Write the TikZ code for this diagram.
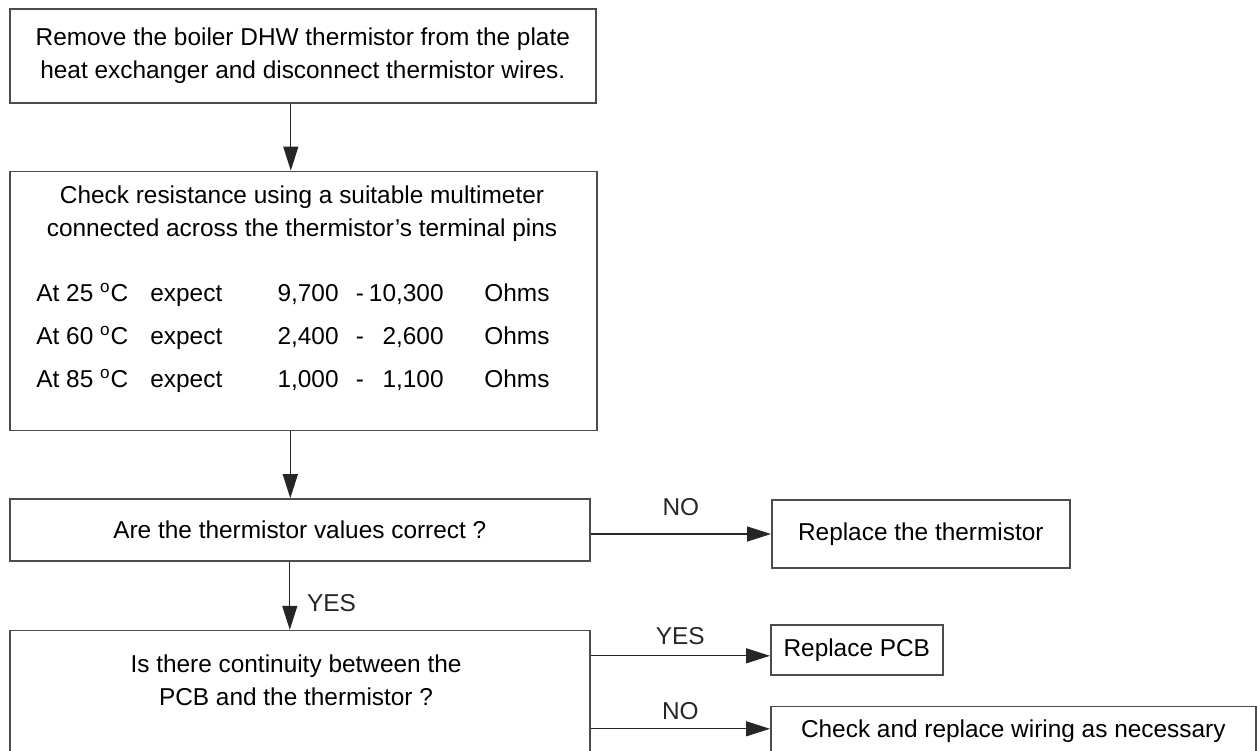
\documentclass[tikz,border=0pt]{standalone}
\usepackage{fontspec}
\setmainfont{Liberation Sans}
\usetikzlibrary{positioning,arrows.meta}

\begin{document}
\begin{tikzpicture}[
    x=0.5pt, y=-0.5pt,
    >={Triangle[length=12pt,width=7.5pt]},
    every node/.style={font=\fontsize{12.2}{16.5}\selectfont, align=center},
    block/.style={
        draw=black!70,
        line width=0.8pt,
        inner sep=0pt
    },
    flow/.style={->, line width=0.6pt, black!85},
    cell/.style={inner sep=0pt}
]
\useasboundingbox (0,0) rectangle (1257,750);

\node[block, minimum width=293pt, minimum height=47pt, anchor=north west] (remove) at (9,8)
    {Remove the boiler DHW thermistor from the plate\\heat exchanger and disconnect thermistor wires.};
\node[block, minimum width=293.5pt, minimum height=129.5pt, below=33.5pt of remove.south west, anchor=north west] (check) {};
\node (checktxt) at (302,214) {Check resistance using a suitable multimeter\\connected across the thermistor’s terminal pins};

% resistance table
\foreach \tc/\lov/\hiv [count=\i] in {25/{9,700}/{10,300}, 60/{2,400}/{2,600}, 85/{1,000}/{1,100}} {
    \pgfmathsetmacro\rowy{301+43*(\i-1)}
    \node[cell, anchor=base west] (temp\i) at (36,\rowy) {At \tc\ \textsuperscript{o}C};
    \node[cell, anchor=base west] (expect\i) at (150,\rowy) {expect};
    \node[cell, anchor=base east] (low\i) at (339,\rowy) {\lov};
    \node[cell, anchor=base] (dash\i) at (360,\rowy) {-};
    \node[cell, anchor=base east] (high\i) at (444,\rowy) {\hiv};
    \node[cell, anchor=base west] (ohms\i) at (484,\rowy) {Ohms};
}

\node[block, minimum width=290pt, minimum height=31pt, below=33.5pt of check.south west, anchor=north west] (valuesok)
    {Are the thermistor values correct ?};
\node[block, minimum width=149pt, minimum height=34pt, anchor=west] (newtherm) at (771,534) {Replace the thermistor};

\node[block, minimum width=290pt, minimum height=70pt, below=34pt of valuesok.south west, anchor=north west] (continuity) {};
\node (conttxt) at (296,680) {Is there continuity between the\\PCB and the thermistor ?};
\node[block, minimum width=86pt, minimum height=25pt, anchor=west] (pcb) at (770,650) {Replace PCB};
\node[block, minimum width=242.5pt, minimum height=24.5pt, anchor=west] (wiring) at (770,731) {Check and replace wiring as necessary};

\draw[flow] ([xshift=-6pt]remove.south) -- ([xshift=-6pt]remove.south |- check.north);
\draw[flow] ([xshift=-6.5pt]check.south) -- ([xshift=-6.5pt]check.south |- valuesok.north);
\draw[flow] ([yshift=-2pt]valuesok.east) -- ([yshift=-2pt]valuesok.east -| newtherm.west)
    node[midway, above=5.5pt] (notherm) {NO};
\draw[flow] ([xshift=-5pt]valuesok.south) -- ([xshift=-5pt]valuesok.south |- continuity.north)
    node[pos=0.6, right=5pt] (yesvalues) {YES};
\draw[flow] ([yshift=-13pt]continuity.north east) -- ([yshift=-13pt]continuity.north east -| pcb.west)
    node[midway, above=2pt] (yespcb) {YES};
\draw[flow] ([yshift=-49.5pt]continuity.north east) -- ([yshift=-49.5pt]continuity.north east -| wiring.west)
    node[midway, above=1pt] (nowiring) {NO};
\end{tikzpicture}
\end{document}
